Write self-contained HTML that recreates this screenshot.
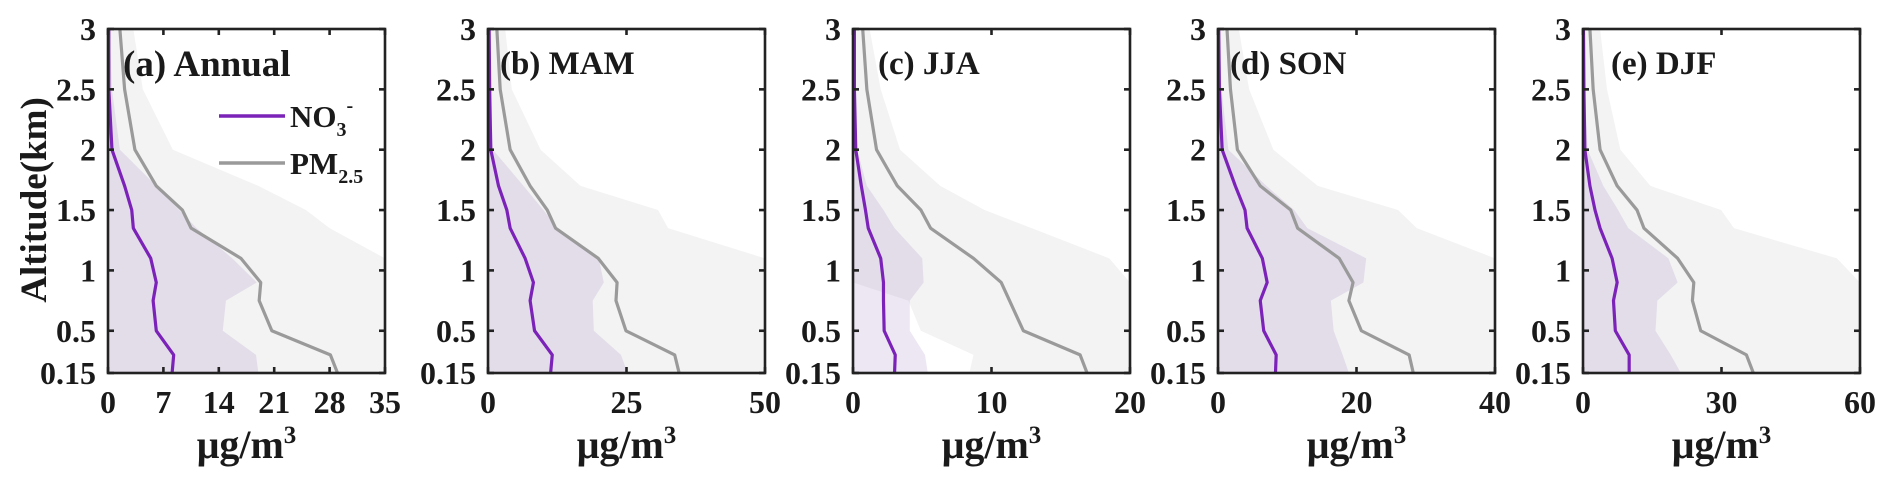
<!DOCTYPE html>
<html><head><meta charset="utf-8">
<style>
html,body{margin:0;padding:0;background:#fff;}
svg{display:block;}
text{font-family:"Liberation Serif",serif;font-weight:bold;fill:#1a1a1a;}
</style></head>
<body>
<svg id="chart" width="1892" height="481" viewBox="0 0 1892 481" xmlns="http://www.w3.org/2000/svg">
<text x="0" y="0" font-size="37" text-anchor="middle" transform="translate(46,200) rotate(-90)">Altitude(km)</text>
</svg>
<script>
const altitudes = [0.15,0.3,0.5,0.75,0.9,1.1,1.35,1.5,1.7,2.0,2.5,3.0];
const panelTitles = ["(a) Annual","(b) MAM","(c) JJA","(d) SON","(e) DJF"];
const xMaxes = [35,50,20,40,60];
const xTicksA = [0,7,14,21,28,35];
const xTicksB = [0,25,50];
const xTicksC = [0,10,20];
const xTicksD = [0,20,40];
const xTicksE = [0,30,60];
const yTicks = [0.15,0.5,1,1.5,2,2.5,3];
const yTickLabels = ["0.15","0.5","1","1.5","2","2.5","3"];
// NO3- mean
const no3A = [8.1,8.3,6.1,5.7,6.1,5.4,3.2,3.0,2.1,0.5,0.1,0.1];
const no3B = [11.3,11.6,8.4,7.6,8.2,6.7,4.0,3.4,1.9,0.5,0.3,0.2];
const no3C = [3.0,3.05,2.25,2.2,2.2,2.0,1.1,0.9,0.6,0.2,0.1,0.1];
const no3D = [8.3,8.4,6.6,6.1,7.1,6.4,4.2,3.9,2.5,0.6,0.2,0.1];
const no3E = [10.0,10.0,7.0,6.6,7.4,6.3,3.7,2.6,1.5,0.4,0.2,0.1];
// NO3- upper band
const no3UpA = [19,18.7,14.5,14.9,18.8,15.7,11.2,9,6.1,1.5,0.5,0.2];
const no3UpB = [25.2,24,19.1,18.9,20.9,20,12.5,10,6.4,0.9,0.4,0.2];
const no3UpC = [5.4,5.2,4.1,4.1,5.1,5.0,3.0,2.2,1.0,0.3,0.2,0.1];
const no3UpD = [18.9,18,16.7,16.3,21,21.4,12.9,11,7,1.5,0.5,0.2];
const no3UpE = [21.2,19,15.7,16.1,20.5,18.5,9.8,7.6,4.4,1.0,0.4,0.2];
// PM2.5 mean
const pmA = [29.0,28.1,20.7,19.1,19.3,16.8,10.5,9.4,6.1,3.4,2.1,1.5];
const pmB = [34.5,33.7,24.9,23.1,23.3,19.9,12.2,10.7,7.6,4.0,2.2,1.6];
const pmC = [16.9,16.4,12.3,11.3,10.7,8.7,5.6,4.9,3.2,1.7,1.0,0.7];
const pmD = [28.2,27.6,20.7,18.9,19.5,17.5,11.5,10.5,6.1,2.8,1.8,1.3];
const pmE = [36.9,35.4,25.5,23.7,24.0,20.5,13.2,11.7,7.4,3.7,2.2,1.5];
// PM2.5 band
const pmUpA = [35,35,35,35,35,35,28,25,19,8.2,4.4,3.2];
const pmUpB = [50,50,50,50,50,50,32.5,30.7,16.7,9.5,4.3,3.1];
const pmUpC = [20,20,20,20,20,18.5,12.9,9.5,6.3,3.4,2.0,1.2];
const pmUpD = [40,40,40,40,40,40,28.7,26,14.4,8,4.5,3];
const pmUpE = [60,60,60,60,60,55,32.7,29.9,14.6,8.1,5.2,3.7];
const pmLoA = [0,0,0,0,0,0,0,0,0,0,0,0];
const pmLoB = [0,0,0,0,0,0,0,0,0,0,0,0];
const pmLoC = [8.4,8.7,4.9,4.0,0,0,0,0,0,0,0,0];
const pmLoD = [0,0,0,0,0,0,0,0,0,0,0,0];
const pmLoE = [0,0,0,0,0,0,0,0,0,0,0,0];

const panels = [
 {L:108,tk:xTicksA,no3:no3A,no3Up:no3UpA,pm:pmA,pmUp:pmUpA,pmLo:pmLoA},
 {L:488,tk:xTicksB,no3:no3B,no3Up:no3UpB,pm:pmB,pmUp:pmUpB,pmLo:pmLoB},
 {L:853,tk:xTicksC,no3:no3C,no3Up:no3UpC,pm:pmC,pmUp:pmUpC,pmLo:pmLoC},
 {L:1218,tk:xTicksD,no3:no3D,no3Up:no3UpD,pm:pmD,pmUp:pmUpD,pmLo:pmLoD},
 {L:1583,tk:xTicksE,no3:no3E,no3Up:no3UpE,pm:pmE,pmUp:pmUpE,pmLo:pmLoE}
];
const W=277, TOP=29, BOT=373;
const NS="http://www.w3.org/2000/svg";
const svg=document.getElementById('chart');
function mk(tag,attrs,parent){const e=document.createElementNS(NS,tag);for(const k in attrs)e.setAttribute(k,attrs[k]);(parent||svg).appendChild(e);return e;}
const yS=a=>TOP+(3-a)/(3-0.15)*(BOT-TOP);

panels.forEach((p,i)=>{
  const xMax=xMaxes[i];
  const xS=v=>p.L+v/xMax*W;
  const g=mk('g',{});
  
  
  const cid='clip'+i;
  const cp=mk('clipPath',{id:cid},g);
  mk('rect',{x:p.L,y:TOP,width:W,height:BOT-TOP},cp);
  const pg=mk('g',{'clip-path':'url(#'+cid+')'},g);
  let pts=altitudes.map((a,k)=>xS(p.pmUp[k])+','+yS(a));
  pts=pts.concat(altitudes.slice().reverse().map((a,k)=>{const j=altitudes.length-1-k;return xS(p.pmLo[j])+','+yS(a);}));
  const pb=mk('polygon',{points:pts.join(' '),fill:'#f3f3f3'},pg);
  
  
  let pts2=altitudes.map((a,k)=>xS(p.no3Up[k])+','+yS(a));
  pts2.push(xS(0)+','+yS(3),xS(0)+','+yS(0.15));
  const nb=mk('polygon',{points:pts2.join(' '),fill:'rgba(150,110,190,0.17)'},pg);
  
  
  const pl=mk('polyline',{points:altitudes.map((a,k)=>xS(p.pm[k])+','+yS(a)).join(' '),fill:'none',stroke:'#9a9a9a','stroke-width':3.2,'stroke-linejoin':'round'},pg);
  
  
  const nl=mk('polyline',{points:altitudes.map((a,k)=>xS(p.no3[k])+','+yS(a)).join(' '),fill:'none',stroke:'#7b22b8','stroke-width':3.2,'stroke-linejoin':'round'},pg);
  
  
  const bx=mk('rect',{x:p.L,y:TOP,width:W,height:BOT-TOP,fill:'none',stroke:'#222','stroke-width':2.6},g);
  
  
  p.tk.forEach(t=>{
    const x=xS(t);
    mk('line',{x1:x,y1:BOT,x2:x,y2:BOT-6,stroke:'#222','stroke-width':2.6},g);
    mk('line',{x1:x,y1:TOP,x2:x,y2:TOP+6,stroke:'#222','stroke-width':2.6},g);
    const tl=mk('text',{x:x,y:413,'font-size':32,'text-anchor':'middle'},g);
    tl.textContent=t;
    
    
  });
  yTicks.forEach((a,k)=>{
    const y=yS(a);
    mk('line',{x1:p.L,y1:y,x2:p.L+6,y2:y,stroke:'#222','stroke-width':2.6},g);
    mk('line',{x1:p.L+W,y1:y,x2:p.L+W-6,y2:y,stroke:'#222','stroke-width':2.6},g);
    const yl=mk('text',{x:p.L-12,y:y+11,'font-size':32,'text-anchor':'end'},g);
    yl.textContent=yTickLabels[k];
    
    
  });
  const xt=mk('text',{x:p.L+W/2,y:458,'font-size':40,'text-anchor':'middle'},g);
  xt.textContent='μg/m';
  const sup=mk('tspan',{'font-size':25,dy:-15},xt);
  sup.textContent='3';
  
  
  const tt=mk('text',{x:p.L+(i==0?15:i==2?25:i==4?28:12),y:i==0?76:74,'font-size':i==0?37:33},g);
  tt.textContent=panelTitles[i];
  
  
});
const lg=mk('g',{});


mk('line',{x1:219,y1:116,x2:285,y2:116,stroke:'#7b22b8','stroke-width':3.5},lg);
const t1=mk('text',{x:290,y:127,'font-size':31},lg);
t1.textContent='NO';
const s1=mk('tspan',{'font-size':20,dy:9},t1);s1.textContent='3';
const s2=mk('tspan',{'font-size':20,dy:-24},t1);s2.textContent='-';


mk('line',{x1:219,y1:163,x2:285,y2:163,stroke:'#9a9a9a','stroke-width':3.5},lg);
const t2=mk('text',{x:290,y:174,'font-size':31},lg);
t2.textContent='PM';
const s3=mk('tspan',{'font-size':20,dy:9},t2);s3.textContent='2.5';


</script>
</body></html>
